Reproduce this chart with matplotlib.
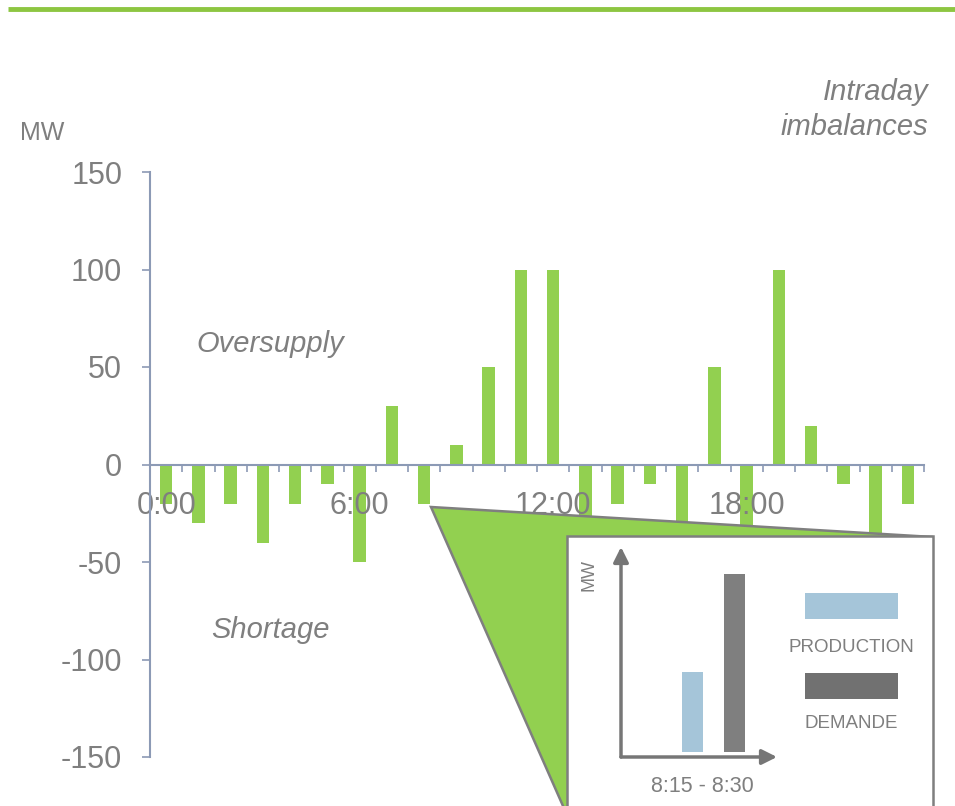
import matplotlib.pyplot as plt
import numpy as np
from matplotlib.patches import Polygon, Rectangle

plt.rcParams['font.family'] = ['Liberation Sans', 'DejaVu Sans']

# hourly imbalance (MW), one bar per hour
hours = np.arange(24)
imbalance = [-20, -30, -20, -40, -20, -10, -50, 30, -20, 10, 50, 100,
             100, -30, -20, -10, -40, 50, -40, 100, 20, -10, -40, -20]
hour_labels = ['0:00', '6:00', '12:00', '18:00']
yticks = [-150, -100, -50, 0, 50, 100, 150]

# zoom-in on 8:15 - 8:30
inset_cats = ['PRODUCTION', 'DEMANDE']
inset_vals = [39, 87]

green = '#92D050'
grey = '#7F7F7F'
axis_col = '#8C9AB5'
blue = '#A5C5D9'
dark = '#7F7F7F'

W, H = 955, 806
fig = plt.figure(figsize=(W / 100, H / 100), dpi=100)

# main chart
ax = fig.add_axes([150 / W, 1 - 757 / H, 774 / W, 585 / H])
ax.bar(hours, imbalance, width=0.38, color=green, zorder=1)
ax.set_xlim(-0.5, 23.5)
ax.set_ylim(-150, 150)
ax.spines['top'].set_visible(False)
ax.spines['right'].set_visible(False)
ax.spines['bottom'].set_position(('data', 0))
for s in ['left', 'bottom']:
    ax.spines[s].set_color(axis_col)
    ax.spines[s].set_linewidth(1.5)
ax.set_yticks(yticks)
ax.set_yticklabels([str(v) for v in yticks])
ax.tick_params(axis='y', direction='out', length=6, width=1.2, color=axis_col,
               pad=14, labelsize=22, labelcolor=grey)
ax.set_xticks([0, 6, 12, 18])
ax.set_xticklabels(hour_labels)
ax.set_xticks(np.arange(-0.5, 24, 1), minor=True)
ax.tick_params(axis='x', which='major', length=0, pad=19, labelsize=22,
               labelcolor=grey)
ax.tick_params(axis='x', which='minor', direction='out', length=5, width=1.2,
               color=axis_col)

# overlay in pixel coords
ov = fig.add_axes([0, 0, 1, 1], zorder=5)
ov.set_xlim(0, W)
ov.set_ylim(H, 0)
ov.axis('off')
ov.patch.set_alpha(0)

ov.plot([8, W], [9, 9], color='#8DC641', lw=3.5, solid_capstyle='butt')

ov.text(20, 133, 'MW', fontsize=18, color=grey, va='center', ha='left')
ov.text(928, 92, 'Intraday', fontsize=21, color=grey, style='italic',
        ha='right', va='center')
ov.text(928, 127, 'imbalances', fontsize=21, color=grey, style='italic',
        ha='right', va='center')
ov.text(270, 344, 'Oversupply', fontsize=21, color=grey, style='italic',
        ha='center', va='center')
ov.text(270, 630, 'Shortage', fontsize=21, color=grey, style='italic',
        ha='center', va='center')

ov.add_patch(Polygon([(431, 507), (933, 537), (567, 815)], closed=True,
                     facecolor=green, edgecolor=grey, lw=1.8))
ov.add_patch(Rectangle((567, 536), 366, 300, facecolor='white',
                       edgecolor=grey, lw=1.8))

ov.add_patch(Rectangle((805, 593), 93, 26, facecolor=blue, edgecolor='none'))
ov.add_patch(Rectangle((805, 673), 93, 26, facecolor='#717171', edgecolor='none'))
ov.text(851, 647, inset_cats[0], fontsize=13.5, color=grey, ha='center', va='center')
ov.text(851, 724, inset_cats[1], fontsize=13.5, color=grey, ha='center', va='center')
ov.text(702, 787, '8:15 - 8:30', fontsize=15.5, color=grey, ha='center', va='center')
ov.text(589, 575, 'MW', fontsize=13, color=grey, rotation=90,
        ha='center', va='center')

# mini bar chart
ax2 = fig.add_axes([621 / W, 1 - 757 / H, 156 / W, 210 / H], zorder=6)
ax2.patch.set_alpha(0)
ax2.bar([0, 1], inset_vals, width=0.5, color=[blue, dark])
ax2.set_xlim(-1.70, 2.01)
ax2.set_ylim(-2.5, 100)
ax2.axis('off')
arrow = dict(arrowstyle='-|>,head_length=0.9,head_width=0.45', color='#767676',
             lw=2.5, shrinkA=0, shrinkB=0)
ax2.annotate('', xy=(0, 1), xytext=(0, 0), xycoords='axes fraction',
             arrowprops=arrow)
ax2.annotate('', xy=(1, 0), xytext=(0, 0), xycoords='axes fraction',
             arrowprops=arrow)

fig.savefig('out.png', dpi=100)
